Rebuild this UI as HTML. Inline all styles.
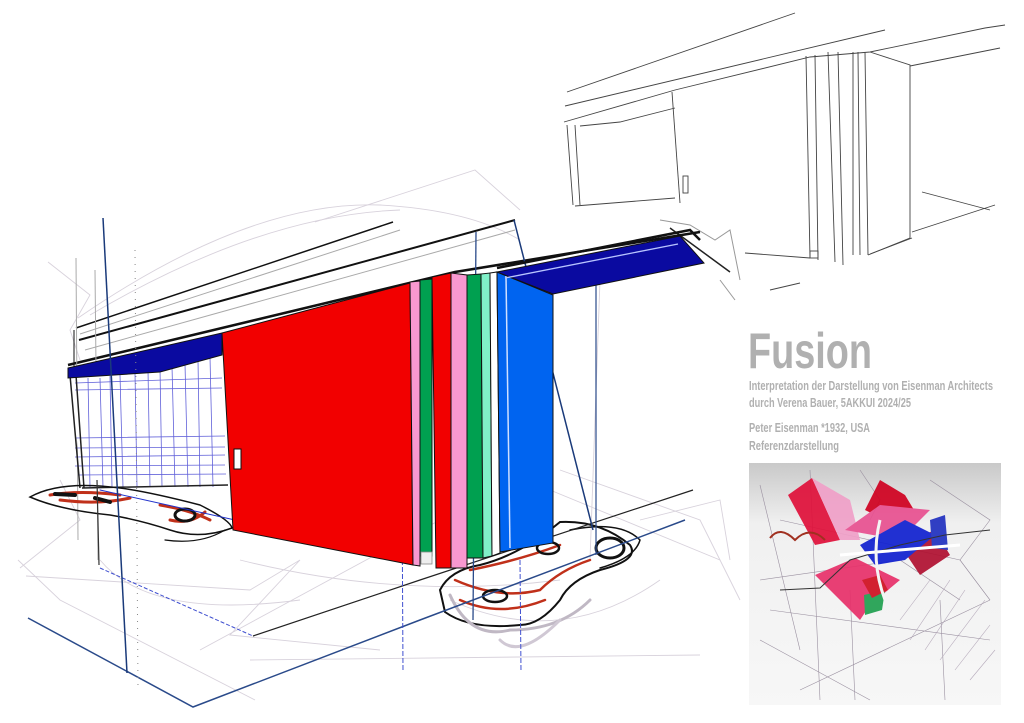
<!DOCTYPE html>
<html><head><meta charset="utf-8"><style>
html,body{margin:0;padding:0;background:#fff;width:1024px;height:723px;overflow:hidden}
svg{display:block}
.t{font-family:"Liberation Sans Narrow","Liberation Sans",sans-serif;fill:#b0b0b0;font-weight:bold}
</style></head><body>
<svg width="1024" height="723" viewBox="0 0 1024 723" xmlns="http://www.w3.org/2000/svg">
<defs>
<linearGradient id="g" x1="0" y1="0" x2="0" y2="1"><stop offset="0" stop-color="#c9c9c9"/><stop offset="0.25" stop-color="#f0f0f0"/><stop offset="1" stop-color="#f7f7f7"/></linearGradient>
</defs>
<g stroke="#d8d2dc" stroke-width="0.9" fill="none">
<path d="M78,318 Q250,200 380,205 Q470,210 520,240"/>
<path d="M90,315 Q260,215 400,210"/>
<path d="M315,222 L475,170 L520,210"/>
<path d="M48,262 L90,295 L70,330 L80,360"/>
<path d="M20,568 L80,520 L60,480"/>
<path d="M18,560 L60,600 L255,700"/>
<path d="M26,576 L250,590 L300,560 L230,635 L380,650"/>
<path d="M250,660 L700,655"/>
<path d="M100,560 Q150,620 300,600"/>
<path d="M240,560 Q400,600 560,580"/>
<path d="M560,470 L700,520 L740,600"/>
<path d="M600,280 L590,560"/>
<path d="M450,600 Q560,650 660,580"/>
<path d="M640,520 L720,500 L730,560"/>
<path d="M200,650 L440,520"/>
<path d="M550,490 L720,560"/>
</g>
<g stroke="#444" stroke-width="0.9" fill="none">
<path d="M567,92 L795,13"/>
<path d="M565,106 L885,30"/>
<path d="M564,122 L675,90 L810,57 L870,52 L985,28 L1005,25"/>
<path d="M580,126 L620,122 L675,108"/>
<path d="M567,125 L573,205 M575,125 L580,205"/>
<path d="M672,92 L680,203"/>
<path d="M575,206 L675,198"/>
<rect x="683" y="176" width="5" height="17"/>
<path d="M806,56 L810,258 M815,55 L818,260 M828,52 L835,262 M838,52 L843,265 M853,52 L853,255 M858,52 L860,255 M865,52 L868,255"/>
<path d="M870,52 L910,65 L910,238 L868,255"/>
<path d="M910,66 L1000,48"/>
<path d="M745,253 L810,258 M870,254 L912,238"/>
<path d="M912,232 L995,205 M922,192 L990,210"/>
<path d="M770,290 L800,283"/>
<rect x="810" y="251" width="8" height="7"/>
</g>
<g stroke="#999" stroke-width="1" fill="none">
<path d="M660,220 L690,225 L715,240 L730,230 L740,280"/>
<path d="M720,280 L735,300"/>
</g>
<path d="M670,228 L730,272" stroke="#222" stroke-width="1.5"/>
<g stroke="#111" fill="none">
<path d="M76,328 L393,222" stroke-width="1.5"/>
<path d="M79,340 L515,220" stroke-width="2"/>
<path d="M68,365 L455,272 L700,232" stroke-width="2.5"/>
<path d="M74,330 L74,370" stroke-width="1"/>
</g>
<g stroke="#aaa" fill="none" stroke-width="1">
<path d="M80,334 L400,230"/><path d="M85,350 L515,230"/><path d="M70,372 L520,290"/>
<path d="M76,258 L78,540"/><path d="M95,270 L98,560"/>
</g>
<polygon points="70,375 222,352 228,485 82,487" fill="#fff"/>
<g stroke="#3a3ad0" stroke-width="0.8" opacity="0.8">
<path d="M88,378 L90,487 M100,378 L103,487 M110,376 L112,487 M120,375 L123,487 M135,373 L137,487 M148,370 L150,487 M160,368 L162,487 M172,366 L175,487 M185,364 L188,487 M198,360 L200,487 M210,357 L213,487"/>
<path d="M75,383 L222,378 M75,390 L222,388 M75,438 L225,436 M75,448 L225,447 M75,457 L225,455 M75,466 L225,465 M78,475 L226,474"/>
</g>
<g stroke="#222" stroke-width="1.5"><path d="M70,375 L80,488 M76,375 L84,488 M82,488 L228,485"/></g>
<polygon points="68,368 222,333 222,355 160,372 68,378" fill="#0a0aa0" stroke="#111" stroke-width="1"/>
<g fill="none" stroke-linecap="round">
<path d="M30,497 Q60,480 120,488 Q150,492 200,505 Q230,520 232,528 Q200,540 170,530 Q140,520 110,515 Q60,510 30,497Z" stroke="#111" stroke-width="1.5"/>
<path d="M50,495 Q80,490 120,495 M60,500 Q100,505 130,498" stroke="#c0301a" stroke-width="3"/>
<path d="M160,505 Q190,510 210,520 M170,520 Q190,525 205,512" stroke="#c0301a" stroke-width="3"/>
<path d="M55,494 L75,495 M95,498 L110,502" stroke="#111" stroke-width="4"/>
<ellipse cx="185" cy="515" rx="10" ry="6" stroke="#111" stroke-width="3"/>
<path d="M100,490 L235,520" stroke="#2233cc" stroke-width="1"/>
<path d="M165,540 Q200,545 225,530" stroke="#111" stroke-width="1.2"/>
</g>
<g fill="none" stroke-linecap="round">
<path d="M440,590 Q450,570 480,565 Q520,555 560,522 Q600,520 630,545 Q640,560 600,570 Q570,580 560,600 Q540,625 520,625 Q470,630 445,612 Z" stroke="#111" stroke-width="2"/>
<path d="M455,580 Q500,600 540,590 Q560,570 590,560 M470,570 Q520,560 560,545 M460,600 Q500,618 545,600" stroke="#c0301a" stroke-width="2.5"/>
<path d="M450,595 Q470,640 510,630 Q560,630 590,600" stroke="#c0b8c4" stroke-width="3"/>
<path d="M500,640 Q520,660 560,620" stroke="#d0c8d4" stroke-width="3"/>
<ellipse cx="495" cy="596" rx="12" ry="6" stroke="#111" stroke-width="2.5"/>
<ellipse cx="548" cy="548" rx="11" ry="6" stroke="#111" stroke-width="2.5"/>
<ellipse cx="610" cy="548" rx="14" ry="10" stroke="#111" stroke-width="3"/>
<path d="M570,530 Q620,520 640,540 Q635,558 600,568" stroke="#111" stroke-width="1.5"/>
</g>
<g fill="none">
<path d="M28,618 L193,707 L420,620 L685,520" stroke="#2a4a8a" stroke-width="1.5"/>
<path d="M253,636 L420,580 L693,490" stroke="#222" stroke-width="1.2"/>
<path d="M100,568 L253,636" stroke="#4050d0" stroke-width="1" stroke-dasharray="4,2"/>
<path d="M103,218 L127,673" stroke="#1a3a7a" stroke-width="1.5"/>
<path d="M135,250 L138,690" stroke="#888" stroke-width="1" stroke-dasharray="1,6"/>
<path d="M97,480 L99,565" stroke="#333" stroke-width="1.2"/>
<path d="M402,490 L403,672" stroke="#4050d0" stroke-width="1" stroke-dasharray="5,2"/>
<path d="M520,560 L521,672" stroke="#4050d0" stroke-width="1" stroke-dasharray="5,2"/>
<path d="M476,232 L473,620" stroke="#2a4a8a" stroke-width="1.3"/>
<path d="M514,220 L593,530" stroke="#1a3a7a" stroke-width="1.5"/>
<path d="M596,285 L596,555" stroke="#2a4a8a" stroke-width="1.2"/>
</g>
<g stroke="#111" stroke-width="1">
<polygon points="222,333 410,283 413,565 233,530" fill="#f20000"/>
<polygon points="410,282 420,281 420,566 413,565" fill="#f898d0"/>
<polygon points="420,280 432,279 432,556 420,556" fill="#00a050"/>
<polygon points="432,277 451,273 451,568 436,568" fill="#f20000"/>
<polygon points="451,273 467,275 467,568 451,568" fill="#f898d0"/>
<polygon points="467,275 481,274 483,558 467,558" fill="#00a050"/>
<polygon points="481,274 490,273 492,556 483,558" fill="#80f0c8"/>
<polygon points="490,273 497,272 500,553 492,556" fill="#fff"/>
<polygon points="497,272 553,295 553,543 500,552" fill="#0064f0"/>
</g>
<path d="M506,276 L510,548" stroke="#cfe0ff" stroke-width="1.5"/>
<rect x="234" y="449" width="7" height="20" fill="#fff" stroke="#111"/>
<rect x="421" y="552" width="11" height="12" fill="#eee" stroke="#888" stroke-width="0.8"/>
<polygon points="497,272 680,236 704,263 553,294" fill="#0a0aa0" stroke="#111" stroke-width="1"/>
<path d="M505,278 L678,244" stroke="#b8c4ff" stroke-width="1.3"/>
<path d="M497,268 L690,230 L700,240" stroke="#111" stroke-width="2.5" fill="none"/>
<text class="t" x="748" y="368" font-size="50" textLength="124" lengthAdjust="spacingAndGlyphs">Fusion</text>
<text class="t" x="749" y="390" font-size="12.5" textLength="244" lengthAdjust="spacingAndGlyphs">Interpretation der Darstellung von Eisenman Architects</text>
<text class="t" x="749" y="407" font-size="12.5" textLength="162" lengthAdjust="spacingAndGlyphs">durch Verena Bauer, 5AKKUI 2024/25</text>
<text class="t" x="749" y="432" font-size="12.5" textLength="121" lengthAdjust="spacingAndGlyphs">Peter Eisenman *1932, USA</text>
<text class="t" x="749" y="450" font-size="12.5" textLength="90" lengthAdjust="spacingAndGlyphs">Referenzdarstellung</text>
<rect x="749" y="463" width="252" height="242" fill="url(#g)"/>
<g fill="none" stroke="#9a90a0" stroke-width="0.6">
<path d="M760,485 L800,650 M810,470 L820,700 M850,590 L855,700 M940,600 L945,700 M760,580 L900,560 L960,600"/>
<path d="M770,610 L990,640 M800,690 L990,600 M860,470 L880,500 L870,520 M930,480 L990,520 L960,560 L990,600"/>
<path d="M780,520 L960,560 L990,600 M760,640 L870,700"/>
</g>
<g stroke="#a89aae" stroke-width="0.6" opacity="0.8">
<path d="M900,620 L930,580 M910,640 L950,580 M925,650 L965,590 M940,660 L985,600 M955,670 L990,625 M970,680 L995,650"/>
</g>
<g opacity="0.92">
<polygon points="788,495 812,478 840,540 815,545" fill="#e0103a"/>
<polygon points="812,478 850,500 860,540 840,540" fill="#f0a0c8"/>
<polygon points="880,480 905,495 920,520 885,520 865,510" fill="#d00020"/>
<polygon points="845,530 880,505 930,510 900,540" fill="#e85090"/>
<polygon points="815,575 855,558 900,580 870,605 860,620" fill="#e8306a"/>
<polygon points="900,545 935,530 950,555 920,575" fill="#b01030"/>
<polygon points="860,545 905,520 935,535 905,560 875,565" fill="#1020d0"/>
<polygon points="930,520 945,515 948,550 932,548" fill="#2030c0"/>
<polygon points="864,595 885,590 882,610 865,615" fill="#20a050"/>
<polygon points="862,580 880,575 888,590 872,598" fill="#d01020"/>
</g>
<path d="M770,538 Q780,525 795,540 Q810,525 825,540" stroke="#a03020" stroke-width="2" fill="none"/>
<path d="M780,590 L820,588 L850,560 L900,545 L945,535 L990,530" stroke="#333" stroke-width="1" fill="none"/>
<path d="M840,555 L960,545" stroke="#fff" stroke-width="3"/>
<path d="M880,520 Q870,560 885,600" stroke="#f4f4f4" stroke-width="3" fill="none"/>
</svg>
</body></html>
